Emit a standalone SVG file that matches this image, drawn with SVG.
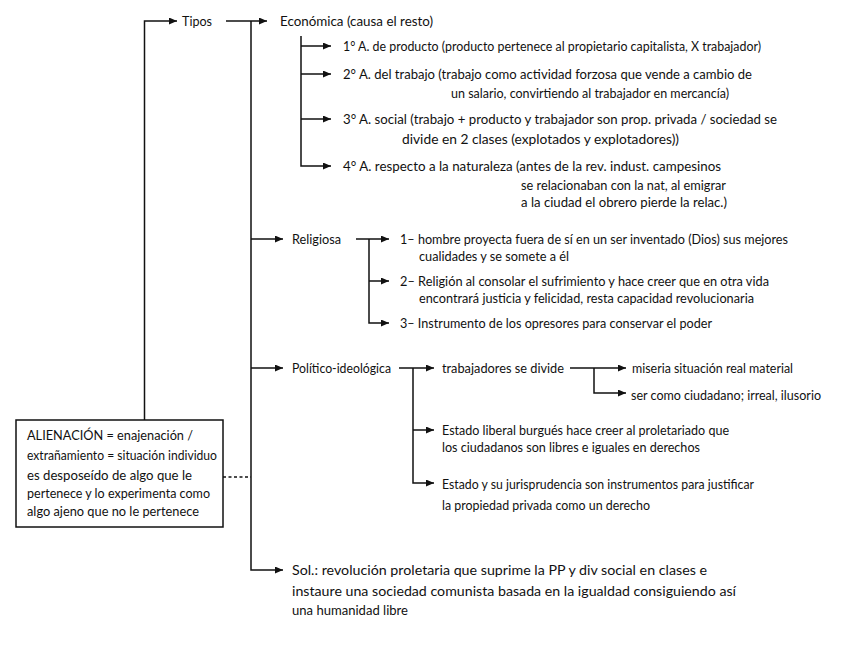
<svg xmlns="http://www.w3.org/2000/svg" width="848" height="650" viewBox="0 0 848 650">
<style>
text{font-family:Lato,"Noto Sans","Liberation Sans",sans-serif;font-size:13px;fill:#111}
.big{font-size:14px}
.c{fill:none;stroke:#111;stroke-width:1.5}
.a{marker-end:url(#ah)}
</style>
<defs>
<marker id="ah" markerUnits="userSpaceOnUse" markerWidth="9" markerHeight="8" refX="8" refY="3.5" orient="auto"><path d="M0,0 L8,3.5 L0,7 z" fill="#111"/></marker>
</defs>
<rect width="848" height="650" fill="#fff"/>
<g id="connectors">
<path class="c a" d="M144.5,420 V21 H177"/>
<path class="c a" d="M226,21 H267"/>
<path class="c a" d="M251,21 V570 H283"/>
<path class="c a" d="M251,239 H283"/>
<path class="c a" d="M251,368 H283"/>
<path class="c a" d="M301,36 V166 H331"/>
<path class="c a" d="M301,46 H331"/>
<path class="c a" d="M301,74 H331"/>
<path class="c a" d="M301,119 H331"/>
<path class="c a" d="M356,239 H389"/>
<path class="c a" d="M369,239 V323 H389"/>
<path class="c a" d="M369,281 H389"/>
<path class="c a" d="M399,368 H434"/>
<path class="c a" d="M413,368 V483 H434"/>
<path class="c a" d="M413,430 H434"/>
<path class="c a" d="M570,368 H626"/>
<path class="c a" d="M594,368 V393 H626"/>
<path class="c" d="M223,477 H251" stroke-dasharray="3,2.5"/>
</g>
<g id="alienacion">
<rect x="16" y="420" width="207" height="107" fill="#fff" stroke="#111" stroke-width="1.5"/>
<text x="27" y="440" textLength="166" lengthAdjust="spacingAndGlyphs">ALIENACIÓN = enajenación /</text>
<text x="27" y="460" textLength="190" lengthAdjust="spacingAndGlyphs">extrañamiento = situación individuo</text>
<text x="27" y="480" textLength="165" lengthAdjust="spacingAndGlyphs">es desposeído de algo que le</text>
<text x="27" y="498" textLength="183" lengthAdjust="spacingAndGlyphs">pertenece y lo experimenta como</text>
<text x="27" y="516" textLength="172" lengthAdjust="spacingAndGlyphs">algo ajeno que no le pertenece</text>
</g>
<g id="tipos"><text class="big" x="182" y="26" textLength="30" lengthAdjust="spacingAndGlyphs">Tipos</text></g>
<g id="economica"><text class="big" x="280" y="26" textLength="153" lengthAdjust="spacingAndGlyphs">Económica (causa el resto)</text></g>
<g id="eco1"><text x="343" y="51" textLength="418" lengthAdjust="spacingAndGlyphs">1° A. de producto (producto pertenece al propietario capitalista, X trabajador)</text></g>
<g id="eco2">
<text x="343" y="79" textLength="409" lengthAdjust="spacingAndGlyphs">2° A. del trabajo  (trabajo como actividad forzosa que vende a cambio de</text>
<text x="451" y="98" textLength="278" lengthAdjust="spacingAndGlyphs">un salario, convirtiendo al trabajador en mercancía)</text>
</g>
<g id="eco3">
<text x="343" y="124" textLength="434" lengthAdjust="spacingAndGlyphs">3° A. social (trabajo + producto y trabajador son prop. privada / sociedad se</text>
<text x="402" y="144" textLength="277" lengthAdjust="spacingAndGlyphs">divide en 2 clases (explotados y explotadores))</text>
</g>
<g id="eco4">
<text x="343" y="171" textLength="378" lengthAdjust="spacingAndGlyphs">4° A. respecto a la naturaleza  (antes de la rev. indust. campesinos</text>
<text x="521" y="190" textLength="205" lengthAdjust="spacingAndGlyphs">se relacionaban con la nat, al emigrar</text>
<text x="521" y="207" textLength="206" lengthAdjust="spacingAndGlyphs">a la ciudad el obrero pierde la relac.)</text>
</g>
<g id="religiosa"><text x="292" y="244" textLength="49" lengthAdjust="spacingAndGlyphs">Religiosa</text></g>
<g id="rel1">
<text x="400" y="244" textLength="388" lengthAdjust="spacingAndGlyphs">1– hombre proyecta fuera de sí en un ser inventado (Dios) sus mejores</text>
<text x="419" y="261" textLength="150" lengthAdjust="spacingAndGlyphs">cualidades y se somete a él</text>
</g>
<g id="rel2">
<text x="400" y="286" textLength="369" lengthAdjust="spacingAndGlyphs">2– Religión al consolar el sufrimiento y hace creer que en otra vida</text>
<text x="419" y="303" textLength="335" lengthAdjust="spacingAndGlyphs">encontrará justicia y felicidad, resta capacidad revolucionaria</text>
</g>
<g id="rel3"><text x="400" y="328" textLength="312" lengthAdjust="spacingAndGlyphs">3– Instrumento de los opresores para conservar el poder</text></g>
<g id="politico"><text x="292" y="373" textLength="99" lengthAdjust="spacingAndGlyphs">Político-ideológica</text></g>
<g id="pol1"><text x="442" y="373" textLength="122" lengthAdjust="spacingAndGlyphs">trabajadores se divide</text></g>
<g id="pol1a"><text x="632" y="373" textLength="161" lengthAdjust="spacingAndGlyphs">miseria situación real material</text></g>
<g id="pol1b"><text x="631" y="400" textLength="190" lengthAdjust="spacingAndGlyphs">ser como ciudadano; irreal, ilusorio</text></g>
<g id="pol2">
<text x="442" y="435" textLength="287" lengthAdjust="spacingAndGlyphs">Estado liberal burgués hace creer al proletariado que</text>
<text x="442" y="452" textLength="258" lengthAdjust="spacingAndGlyphs">los ciudadanos son libres e iguales en derechos</text>
</g>
<g id="pol3">
<text x="442" y="489" textLength="312" lengthAdjust="spacingAndGlyphs">Estado y su jurisprudencia son instrumentos para justificar</text>
<text x="442" y="510" textLength="208" lengthAdjust="spacingAndGlyphs">la propiedad privada como un derecho</text>
</g>
<g id="sol">
<text x="292" y="575" textLength="415" lengthAdjust="spacingAndGlyphs">Sol.:  revolución proletaria que suprime la PP y div social en clases e</text>
<text x="292" y="596" textLength="444" lengthAdjust="spacingAndGlyphs">instaure una sociedad comunista basada en la igualdad consiguiendo así</text>
<text x="292" y="615" textLength="116" lengthAdjust="spacingAndGlyphs">una humanidad libre</text>
</g>
</svg>
